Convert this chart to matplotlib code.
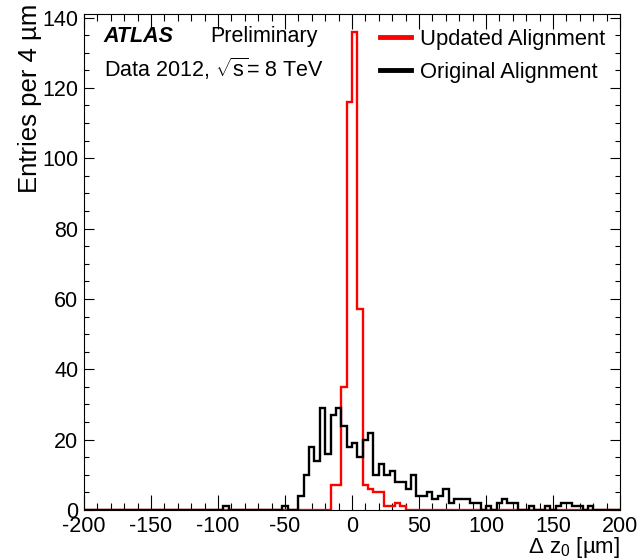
import numpy as np
import matplotlib
matplotlib.use("Agg")
import matplotlib.pyplot as plt
from matplotlib.lines import Line2D
from matplotlib.ticker import MultipleLocator

plt.rcParams['font.family'] = ['Liberation Sans', 'DejaVu Sans']
plt.rcParams['mathtext.fontset'] = 'custom'
plt.rcParams['mathtext.rm'] = 'Liberation Sans'
plt.rcParams['mathtext.it'] = 'Liberation Sans:italic'
plt.rcParams['axes.unicode_minus'] = False

# Histogram binning: 4 um bins from -200 to 200 um
edges = np.arange(-200, 204, 4)

# Non-empty bins (lower bin edge in um, entries)
orig_low = [-96, -52, -40, -36, -32, -28, -24, -20, -16, -12, -8, -4, 0, 4, 8, 12,
            16, 20, 24, 28, 32, 36, 40, 44, 48, 52, 56, 60, 64, 68, 72, 76, 80, 84,
            88, 92, 100, 108, 112, 116, 120, 132, 144, 152, 156, 160, 164, 168, 176]
orig_counts = [1, 1, 4, 10, 18, 14, 29, 16, 27, 29, 24, 18, 19, 15, 20, 22,
               10, 13, 10, 11, 8, 8, 6, 10, 4, 4, 5, 3, 4, 6, 2, 3, 3, 3,
               2, 2, 1, 2, 3, 2, 2, 1, 1, 1, 2, 2, 1, 1, 1]

upd_low = [-16, -12, -8, -4, 0, 4, 8, 12, 16, 20, 24, 28, 32, 36]
upd_counts = [7, 7, 35, 116, 136, 57, 7, 6, 5, 5, 1, 1, 2, 1]


def fill_bins(low, counts):
    h = np.zeros(len(edges) - 1)
    idx = ((np.array(low) - edges[0]) // 4).astype(int)
    h[idx] = counts
    return h


h_orig = fill_bins(orig_low, orig_counts)
h_upd = fill_bins(upd_low, upd_counts)

fig = plt.figure(figsize=(6.42, 5.6), dpi=100)
ax = fig.add_axes([0.1308, 0.0893, 0.835, 0.8857])

ax.stairs(h_upd, edges, baseline=0, color='#ff0000', lw=1.7, zorder=2)
ax.stairs(h_orig, edges, baseline=0, color='black', lw=1.7, zorder=3)

ax.set_xlim(-200, 200)
ax.set_ylim(0, 141)

# ROOT style ticks: inside, on all four sides
ax.xaxis.set_major_locator(MultipleLocator(50))
ax.xaxis.set_minor_locator(MultipleLocator(10))
ax.yaxis.set_major_locator(MultipleLocator(20))
ax.yaxis.set_minor_locator(MultipleLocator(5))
ax.tick_params(axis='x', which='major', direction='in', length=10.5, width=0.8,
               top=True, labelsize=15.5, pad=4)
ax.tick_params(axis='x', which='minor', direction='in', length=5.2, width=0.8, top=True)
ax.tick_params(axis='y', which='major', direction='in', length=7.5, width=0.8,
               right=True, labelsize=15.5, pad=4)
ax.tick_params(axis='y', which='minor', direction='in', length=3.8, width=0.8, right=True)
for sp in ax.spines.values():
    sp.set_linewidth(0.8)

ax.set_xlabel('Δ z$_{0}$ [µm]', fontsize=16, loc='right')
ax.xaxis.set_label_coords(1.0, -0.05)
ax.set_ylabel('Entries per 4 µm', fontsize=18.5, loc='top')
ax.yaxis.set_label_coords(-0.078, 1.02)

ax.text(0.037, 0.954, 'ATLAS', transform=ax.transAxes, fontsize=15.5,
        fontweight='bold', fontstyle='italic', va='center')
ax.text(0.236, 0.954, 'Preliminary', transform=ax.transAxes, fontsize=15.5, va='center')
ax.text(0.037, 0.89, r'Data 2012, $\sqrt{\mathrm{s}}$= 8 TeV', transform=ax.transAxes,
        fontsize=15.5, va='center')

handles = [Line2D([], [], color='#ff0000', lw=3.5),
           Line2D([], [], color='black', lw=3.5)]
ax.legend(handles, ['Updated Alignment', 'Original Alignment'], loc='upper right',
          bbox_to_anchor=(1.01, 1.01), frameon=False, fontsize=15.8,
          handlelength=1.4, handletextpad=0.45, labelspacing=0.55)

fig.savefig('out.png', dpi=100)
